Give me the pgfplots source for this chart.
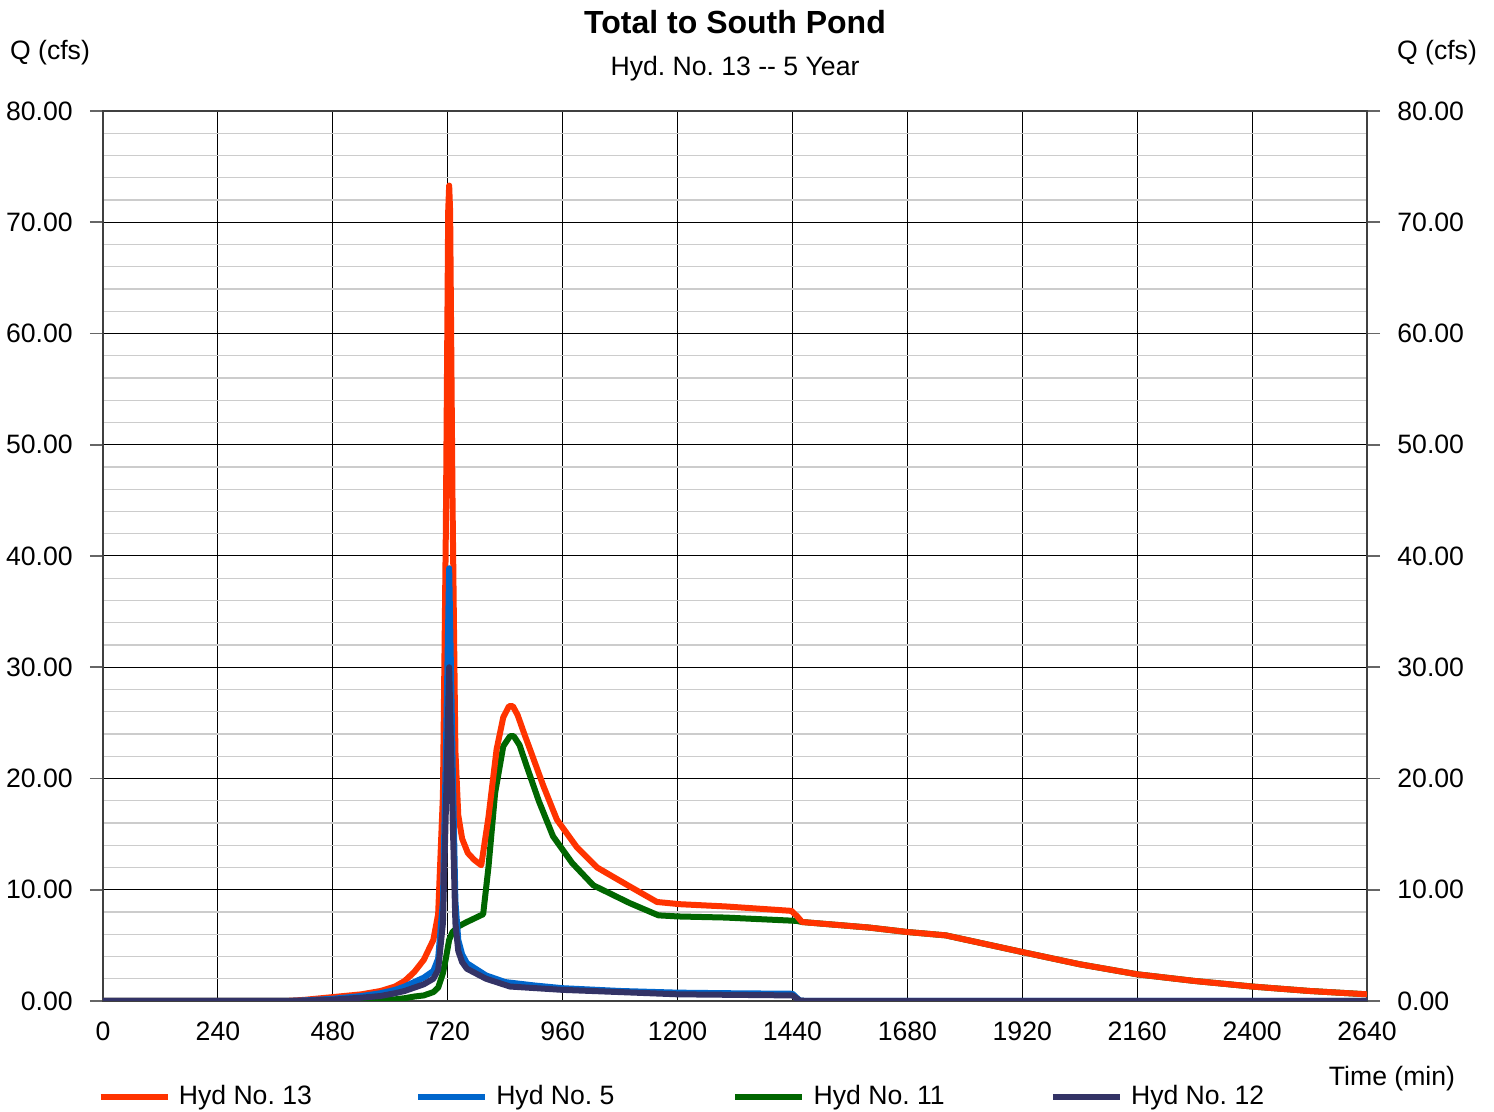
\documentclass[border=0pt]{standalone}
\usepackage{fontspec}
\setmainfont{Liberation Sans}
\usepackage{pgfplots}
\pgfplotsset{compat=1.18}
\definecolor{c13}{HTML}{FF3300}
\definecolor{c5}{HTML}{0066CC}
\definecolor{c11}{HTML}{006600}
\definecolor{c12}{HTML}{333366}

\pgfplotstableread{
t q
0 0
380 0
420 0.1
480 0.35
540 0.6
580 0.9
610 1.3
630 1.8
650 2.6
670 3.7
690 5.5
700 7.8
710 18.5
716 42
721 71
723 73.3
725 71
730 45
736 22.5
742 16.7
750 14.6
762 13.3
775 12.7
790 12.2
805 16.5
822 22.6
836 25.5
848 26.5
856 26.5
866 25.7
880 24.0
892 22.6
920 19.3
948 16.3
990 13.8
1032 12.0
1100 10.3
1157 8.9
1205 8.7
1300 8.5
1438 8.1
1450 7.6
1460 7.1
1600 6.6
1680 6.2
1760 5.9
1920 4.4
2040 3.3
2160 2.4
2280 1.8
2400 1.3
2520 0.9
2640 0.6
}\hydA

\pgfplotstableread{
t q
0 0
460 0
520 0.03
580 0.1
610 0.15
630 0.25
650 0.4
670 0.5
690 0.8
700 1.2
710 2.5
716 3.8
723 5.5
730 6.2
742 6.7
760 7.1
794 7.8
805 12
819 18.7
836 22.9
850 23.8
858 23.8
870 23.0
885 21.1
910 18.0
940 14.8
980 12.4
1024 10.4
1100 8.8
1160 7.7
1200 7.6
1300 7.5
1449 7.2
1460 7.1
1600 6.6
1680 6.2
1760 5.9
1920 4.4
2040 3.3
2160 2.4
2280 1.8
2400 1.3
2520 0.9
2640 0.6
}\hydC

\pgfplotstableread{
t q
0 0
380 0
420 0.05
480 0.2
540 0.45
580 0.7
610 1.0
630 1.3
650 1.7
670 2.1
690 2.7
700 3.8
710 9
716 22
723 38.9
730 22
736 9
742 5.5
750 4.2
760 3.4
800 2.3
840 1.7
900 1.4
960 1.15
1080 0.9
1200 0.75
1300 0.7
1440 0.65
1455 0.05
1470 0
2640 0
}\hydB

\pgfplotstableread{
t q
0 0
380 0
420 0.03
480 0.12
540 0.3
580 0.45
610 0.7
630 0.9
650 1.2
670 1.5
690 2.0
700 2.8
710 7
716 17
723 30
730 17
736 7
742 4.5
750 3.5
760 2.9
800 2.0
850 1.3
960 1.0
1080 0.8
1200 0.6
1440 0.5
1455 0.05
1470 0
2640 0
}\hydD

\begin{document}
\frenchspacing
\fontsize{13.3}{16}\selectfont
\begin{tikzpicture}
\path[use as bounding box] (0,0) rectangle (747pt,556pt);
\begin{axis}[
  at={(51.5pt,55.5pt)}, anchor=south west,
  scale only axis, width=632pt, height=445pt,
  xmin=0, xmax=2640, ymin=0, ymax=80,
  xtick={0,240,...,2640},
  xticklabels={0,240,480,720,960,1200,1440,1680,1920,2160,2400,2640},
  ytick={0,10,...,80},
  yticklabels={0.00,10.00,20.00,30.00,40.00,50.00,60.00,70.00,80.00},
  minor y tick num=4,
  minor tick length=0pt,
  grid=both,
  major grid style={black, line width=0.5pt},
  minor grid style={black!20, line width=0.7pt},
  axis line style={black!75, line width=0.6pt},
  tick align=outside,
  major tick length=6.5pt,
  ytick style={black!60, line width=0.8pt},
  xtick style={draw=none},
  ytick pos=both,
  tick label style={font=\fontsize{13.3}{16}\selectfont},
  yticklabel style={inner sep=0pt, xshift=-8.5pt},
  xticklabel style={inner sep=0pt, yshift=-4pt},
  legend columns=4,
  legend style={draw=none, fill=none, at={(-0.0047,-0.1079)}, anchor=west,
    inner sep=0pt, nodes={inner sep=0pt, anchor=west},
    /tikz/every odd column/.append style={column sep=4pt},
    font=\fontsize{13.3}{16}\selectfont},
  legend image code/.code={\draw[line width=3.2pt] (0pt,0pt) -- (33.5pt,0pt);},
  every axis plot/.append style={line width=3pt, line join=round},
]
\addlegendimage{c13}\addlegendentry{\makebox[118pt][l]{Hyd No. 13}}
\addlegendimage{c5}\addlegendentry{\makebox[118pt][l]{Hyd No. 5}}
\addlegendimage{c11}\addlegendentry{\makebox[118pt][l]{Hyd No. 11}}
\addlegendimage{c12}\addlegendentry{\makebox[118pt][l]{Hyd No. 12}}
\addplot[c11, forget plot] table[x=t, y=q] {\hydC};
\addplot[c13, forget plot] table[x=t, y=q] {\hydA};
\addplot[c5, forget plot] table[x=t, y=q] {\hydB};
\addplot[c12, forget plot] table[x=t, y=q] {\hydD};
\end{axis}
\begin{axis}[
  at={(51.5pt,55.5pt)}, anchor=south west,
  scale only axis, width=632pt, height=445pt,
  xmin=0, xmax=2640, ymin=0, ymax=80,
  hide x axis,
  axis y line*=right,
  axis line style={draw=none},
  ytick={0,10,...,80},
  yticklabels={0.00,10.00,20.00,30.00,40.00,50.00,60.00,70.00,80.00},
  ytick style={draw=none},
  tick align=outside,
  major tick length=6.5pt,
  tick label style={font=\fontsize{13.3}{16}\selectfont},
  yticklabel style={inner sep=0pt, xshift=8.5pt},
]
\end{axis}
\node[font=\fontsize{16}{19}\selectfont\bfseries] at (367.5pt,545pt) {Total to South Pond};
\node at (367.5pt,521.5pt) {Hyd. No. 13 -{}- 5 Year};
\node at (25pt,529.5pt) {Q (cfs)};
\node at (718.5pt,529.5pt) {Q (cfs)};
\node at (696pt,16.5pt) {Time (min)};
\end{tikzpicture}
\end{document}
